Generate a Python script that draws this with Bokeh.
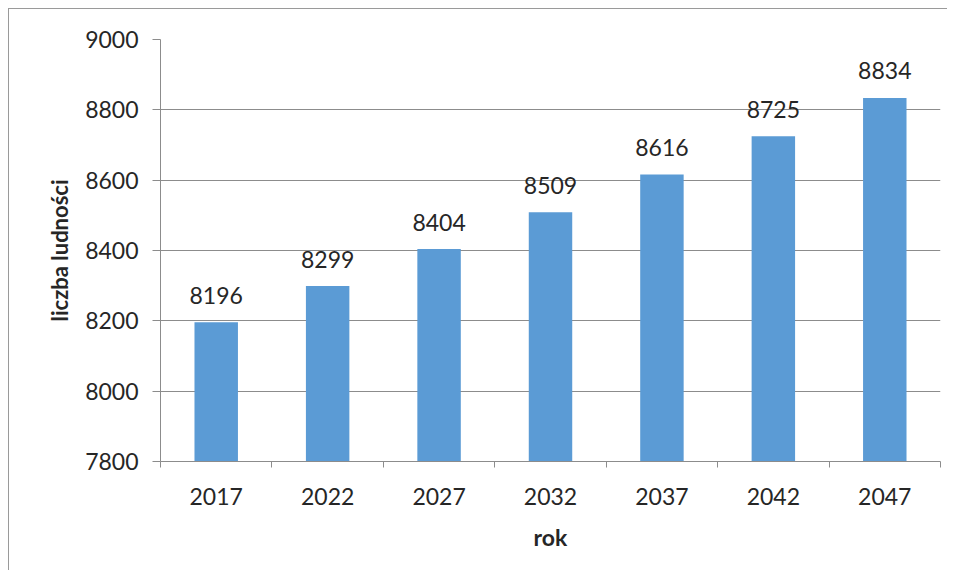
from bokeh.plotting import figure
from bokeh.models import ColumnDataSource, Range1d, FixedTicker
from bokeh.core.properties import value
from bokeh.embed import file_html
from bokeh.resources import INLINE

years = ["2017", "2022", "2027", "2032", "2037", "2042", "2047"]
population = [8196, 8299, 8404, 8509, 8616, 8725, 8834]
y_ticks = [7800, 8000, 8200, 8400, 8600, 8800, 9000]

FONT = "Lato"
TEXT = "#262626"
GRID = "#8c8c8c"

xs = [i + 0.5 for i in range(len(years))]
source = ColumnDataSource(dict(x=xs, top=population,
                               label=[str(v) for v in population]))

p = figure(width=939, height=562, output_backend="svg", toolbar_location=None,
           x_range=Range1d(0, len(years)), y_range=Range1d(y_ticks[0], y_ticks[-1]),
           min_border_left=151, min_border_right=8, min_border_top=30,
           min_border_bottom=110)
p.styles = {"border-left": "1px solid #9a9a9a", "border-top": "1px solid #9a9a9a",
            "margin-left": "8px", "margin-top": "8px"}
p.outline_line_color = None
p.background_fill_color = "white"
p.border_fill_color = "white"

p.vbar(x="x", top="top", bottom=y_ticks[0], width=0.39, source=source,
       fill_color="#5b9bd5", line_color=None)
p.text(x="x", y="top", text="label", source=source, text_align="center",
       text_baseline="alphabetic", y_offset=-27, text_font=value(FONT),
       text_font_size="23px", text_color=TEXT)

# x axis: labels at category centres, tick marks at boundaries
xa = p.xaxis[0]
xa.ticker = FixedTicker(ticks=xs, minor_ticks=list(range(len(years) + 1)))
xa.major_label_overrides = {x: y for x, y in zip(xs, years)}
xa.major_tick_out = 0
xa.major_tick_in = 0
xa.minor_tick_out = 6
xa.minor_tick_in = 0
xa.minor_tick_line_color = GRID
xa.axis_line_color = GRID
xa.major_label_standoff = 20
xa.major_label_text_font = FONT
xa.major_label_text_font_size = "23px"
xa.major_label_text_color = TEXT
xa.axis_label = "rok"
xa.axis_label_text_font = FONT
xa.axis_label_text_font_size = "23px"
xa.axis_label_text_font_style = "bold"
xa.axis_label_text_color = TEXT
xa.axis_label_standoff = 15

ya = p.yaxis[0]
ya.ticker = FixedTicker(ticks=y_ticks)
ya.major_tick_out = 8
ya.major_tick_in = 0
ya.minor_tick_out = 0
ya.minor_tick_in = 0
ya.major_tick_line_color = GRID
ya.axis_line_color = GRID
ya.major_label_standoff = 14
ya.major_label_text_font = FONT
ya.major_label_text_font_size = "23px"
ya.major_label_text_color = TEXT
ya.axis_label = "liczba ludności"
ya.axis_label_text_font = FONT
ya.axis_label_text_font_size = "22px"
ya.axis_label_text_font_style = "bold"
ya.axis_label_text_color = TEXT
ya.axis_label_standoff = 9

p.xgrid.grid_line_color = None
p.ygrid.grid_line_color = GRID
p.ygrid.grid_line_width = 1

open("out.html", "w").write(file_html(p, INLINE))
